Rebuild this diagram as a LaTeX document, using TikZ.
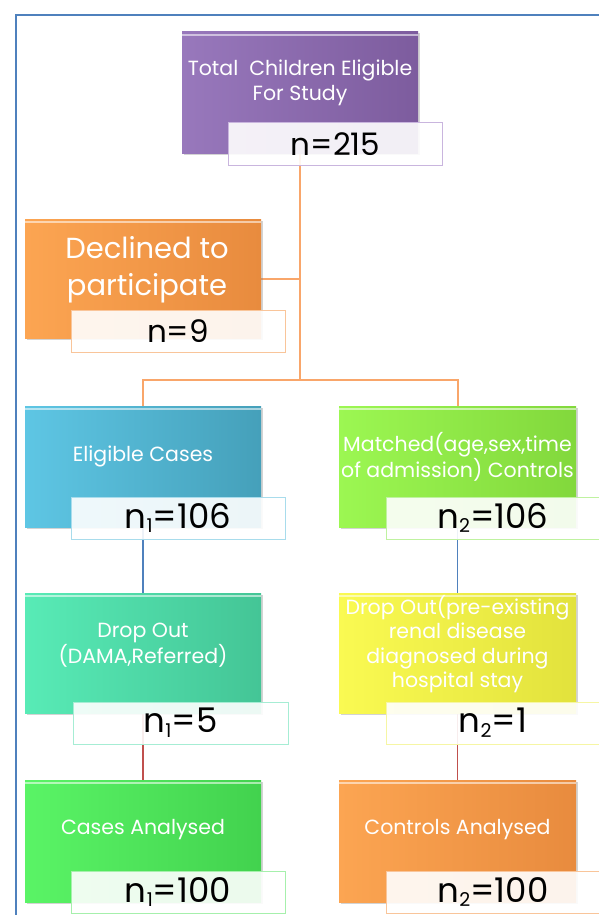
\documentclass[tikz,border=0pt]{standalone}
\usepackage{fontspec}
\setmainfont{Poppins}
\usetikzlibrary{shadows}
\pgfdeclarelayer{background}
\pgfsetlayers{background,main}
\newcommand\nsub[1]{\raisebox{-0.14em}{\fontsize{19}{19}\selectfont #1}}
\definecolor{frameblue}{HTML}{4F81BD}
\definecolor{purL}{HTML}{9878BC}
\definecolor{purD}{HTML}{7D5C9E}
\definecolor{purB}{HTML}{C9B5DE}
\definecolor{oraL}{HTML}{FCA552}
\definecolor{oraD}{HTML}{E88B3E}
\definecolor{oraB}{HTML}{F9C59A}
\definecolor{bluL}{HTML}{5EC6E4}
\definecolor{bluD}{HTML}{45A0BA}
\definecolor{bluB}{HTML}{A8DCEC}
\definecolor{limL}{HTML}{9CF752}
\definecolor{limD}{HTML}{82D83C}
\definecolor{limB}{HTML}{BFF2A0}
\definecolor{teaL}{HTML}{58EBB6}
\definecolor{teaD}{HTML}{44C596}
\definecolor{teaB}{HTML}{A6EDD4}
\definecolor{yelL}{HTML}{FAFA52}
\definecolor{yelD}{HTML}{E2E23C}
\definecolor{yelB}{HTML}{F6F6A4}
\definecolor{grnL}{HTML}{5AF466}
\definecolor{grnD}{HTML}{42D24E}
\definecolor{grnB}{HTML}{A6F0AC}
\definecolor{conO}{HTML}{F9A66A}
\definecolor{conB}{HTML}{4F81BD}
\definecolor{conR}{HTML}{C0504D}
\tikzset{
  box/.style 2 args={minimum width=236pt, minimum height=121pt, inner sep=0pt,
    left color=#1, right color=#2, draw=none,
    drop shadow={opacity=0.35, shadow xshift=1.5pt, shadow yshift=-1.5pt},
    path picture={\draw[white, opacity=0.55, line width=2.5pt]
      ([yshift=-3pt]path picture bounding box.north west) --
      ([yshift=-3pt]path picture bounding box.north east);}},
  lab/.style={draw=#1, line width=1pt, fill=white, fill opacity=0.9, text opacity=1,
    minimum width=214pt, minimum height=42pt, inner sep=0pt,
    font=\fontsize{34}{34}\selectfont},
  btxt/.style={text=white, align=center, inner sep=0pt,
    font=\fontsize{20.5}{24}\selectfont},
  conor/.style={draw=conO, line width=2pt},
  conbl/.style={draw=conB, line width=1.2pt},
  conrd/.style={draw=conR, line width=1.2pt},
}
\begin{document}
\begin{tikzpicture}[x=1pt, y=-1pt]
\useasboundingbox (0,0) rectangle (599,915);
\draw[frameblue, line width=2pt] (16,940) -- (16,15) -- (620,15);

% boxes
\node[box={purL}{purD}] (total) at (300,92.5) {};
\node[btxt, font=\fontsize{20.5}{25}\selectfont] (totaltxt) at (300,83) {Total\ \ Children Eligible\\For Study};
\node[lab=purB, font=\fontsize{31}{31}\selectfont] (l215) at (335.5,144) {n=215};

\node[box={oraL}{oraD}, minimum height=119pt] (dec) at (143,278.5) {};
\node[btxt, font=\fontsize{29}{37}\selectfont] (dectxt) at (147,270) {Declined to\\participate};
\node[lab=oraB, font=\fontsize{31}{31}\selectfont] (l9) at (178,331) {n=9};

\node[box={bluL}{bluD}] (elig) at (143,466.5) {};
\node[btxt] (eligtxt) at (143,456) {Eligible Cases};
\node[lab=bluB] (la) at (178,518) {n\nsub{1}=106};

\node[box={limL}{limD}, minimum width=237pt] (match) at (457.5,466.5) {};
\node[btxt, font=\fontsize{20.5}{23}\selectfont] (matchtxt) at (457.5,457) {Matched(age,sex,time\\of admission) Controls};
\node[lab=limB] (lb) at (493,518) {n\nsub{2}=106};

\node[box={teaL}{teaD}, minimum height=120pt] (drop1) at (143,653) {};
\node[btxt, font=\fontsize{20.5}{26}\selectfont] (drop1txt) at (143,645) {Drop Out\\(DAMA,Referred)};
\node[lab=teaB, minimum width=215pt] (lc) at (180.5,723) {n\nsub{1}=5};

\node[box={yelL}{yelD}, minimum width=237pt, minimum height=120pt] (drop2) at (457.5,653) {};
\node[btxt, font=\fontsize{20.5}{24.3}\selectfont] (drop2txt) at (457.5,644) {Drop Out(pre-existing\\renal disease\\diagnosed during\\hospital stay};
\node[lab=yelB] (ld) at (493,723) {n\nsub{2}=1};

\node[box={grnL}{grnD}, minimum height=122pt] (cases) at (143,841) {};
\node[btxt] (casestxt) at (143,830) {Cases Analysed};
\node[lab=grnB] (le) at (178,892) {n\nsub{1}=100};

\node[box={oraL}{oraD}, minimum width=237pt, minimum height=122pt] (ctrl) at (457.5,841) {};
\node[btxt] (ctrltxt) at (457.5,830) {Controls Analysed};
\node[lab=oraB] (lf) at (493,892) {n\nsub{2}=100};

% connectors
\coordinate (split) at (300,380);
\begin{pgfonlayer}{background}
\draw[conor] (total.south) -- (split);
\draw[conor] (dec.east) -- (dec.east -| split);
\draw[conor] (split) -| (elig.north);
\draw[conor] (split) -| (match.north);
\draw[conbl] (elig.south) -- (drop1.north);
\draw[conbl] (match.south) -- (drop2.north);
\draw[conrd] (drop1.south) -- (cases.north);
\draw[conrd] (drop2.south) -- (ctrl.north);
\end{pgfonlayer}
\end{tikzpicture}
\end{document}
